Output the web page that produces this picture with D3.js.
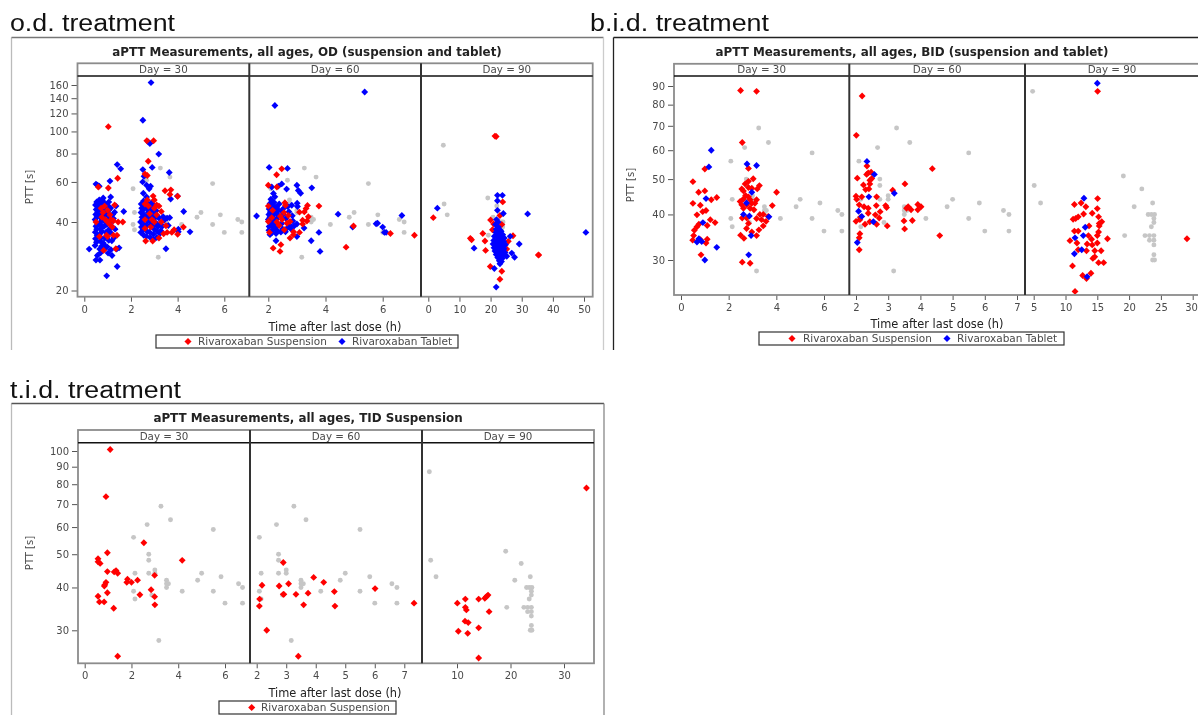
<!DOCTYPE html>
<html><head><meta charset="utf-8">
<script src="https://cdn.jsdelivr.net/npm/d3@7"></script>
<style>html,body{margin:0;padding:0;background:#fff}svg{display:block;filter:blur(0.45px)}</style>
</head><body><svg id="c" width="1198" height="715"></svg>
<script>
// ---- reference (grey) measurements [time h, PTT s]
const greyEarly=[[2.09,56],[2.15,44],[2.09,39],[2.15,37],[2.67,61],[3.26,69],[3.67,63],[2.74,50],[2.74,48],[2.74,44],[3,45],[3,44],[2.87,38],[3.17,28],[3.5,42],[3.5,41],[3.58,41],[3.5,40],[4.17,39],[4.83,42],[5,44],[5.5,59],[5.5,39],[5.83,43],[6,36],[6.58,41],[6.75,40],[6.75,36]];
const greyLate=[[4.83,87],[5.08,48],[6.08,43],[19.1,51],[22,47],[20.8,42],[19.3,35],[23.7,43],[23,40],[23.5,40],[24,40],[23.9,39],[23.9,38],[23.5,37],[22.5,35],[23.2,35],[23.9,35],[23.2,34],[23.9,34],[23.9,33],[23.9,31],[23.7,30],[24,30]];

// ---- o.d.
const odSusp30=[[1.03,105],[1.43,62.3],[1.03,56.4],[.6,57],[.87,47],[1.3,47.5],[1,45],[.8,44],[.75,42],[1.1,43],[1.25,40.5],[1,40],[1.1,39],[.5,40],[1.65,40],[1.45,40],[1.2,38],[.65,34.5],[1,34.5],[.95,35],[1.25,35],[1.4,35],[.83,30],[1.35,30.5],[1.15,41],[.72,46],[.9,41],
[2.68,91],[2.97,91],[2.74,74],[2.6,65],[2.7,64],[3.46,54.9],[3.71,55.4],[3.67,52.9],[4,51.9],[2.7,50],[2.95,52],[3,50],[2.6,48],[3.1,47.5],[3.2,47],[2.75,47],[3,46],[3.3,44.5],[3.1,43],[2.8,43.5],[2.6,41],[2.9,41],[3,40],[3.3,40],[3.5,38.5],[2.85,38],[2.6,37.5],[3.55,36],[3.75,36],[3.4,35.5],[4,35.3],[4.25,38],[2.63,33],[2.93,33],[3.2,34],[3.85,37]];
const odTab30=[[2.86,164],[2.51,112],[2.74,90],[2.81,88.5],[3.19,79.5],[1.41,71.5],[1.56,68.5],[2.91,69.5],[2.51,68],[3.64,66],[2.56,63.5],[1.1,60.5],[.5,58.7],[.64,57.5],[.57,58],[2.5,60],[2.67,58],[2.84,57.5],[2.78,56],[1.13,51.5],[.81,51],[.64,50],[.53,49],[.98,47.5],[2.53,53.5],[2.67,51.5],[3.99,52],[3.7,50.5],[4.26,44.5],[1.69,44.5],[4.53,36.2],[4.03,37.2],[4.03,36.2],[3.5,30.5],[3.24,35.6],[3.1,34.2],[2.96,33.5],[1.41,25.5],[.96,23.2],[.21,30.4],[1.49,30.8],[1.39,30.4],[1.19,28.5],[.5,27.2],[.67,27.2],[.56,28.5],
[.46,31.5],[.52,32.6],[.48,33.8],[.55,35],[.47,36.1],[.53,37.2],[.5,38.3],[.58,39.1],[.46,41],[.54,42.1],[.49,43.2],[.57,44.3],[.51,45.4],[.6,46.3],[.48,47.5],
[.7,29.3],[.66,30.4],[.74,31.3],[.68,33],[.72,34.1],[.64,35.2],[.76,36.3],[.69,37.4],[.73,38.6],[.66,39.6],[.75,40.7],[.7,41.8],[.63,43],[.77,44.1],[.68,45.2],[.72,46.5],[.66,47.6],[.74,48.8],[.78,49.8],
[.84,30.3],[.9,31.2],[.82,32.3],[.88,34],[.93,36.1],[.84,38.2],[.9,40.1],[.86,42.3],[.92,44.2],[.83,46.1],[.88,48.2],
[1.02,29.2],[.98,31.1],[1.05,33.2],[.99,35.6],[1.06,37.1],[.97,39],[1.04,41.2],[.98,43.4],[1.07,45.3],[1,47.1],[1.05,49],
[1.14,30.2],[1.18,33.1],[1.12,36],[1.2,38.1],[1.16,40.2],[1.22,43.2],[1.13,46.1],[1.27,34.1],[1.32,37.2],[1.25,41.4],[1.3,44.2],[1.36,47],
[2.42,36],[2.45,38],[2.41,40],[2.47,42],[2.43,44],[2.46,46],[2.44,48],[2.55,35],[2.52,37],[2.57,39],[2.5,41],[2.56,43],[2.51,45],[2.58,47],[2.54,49.5],
[2.66,34.6],[2.7,36.3],[2.65,38.4],[2.72,40.3],[2.67,42.1],[2.74,44.2],[2.68,46],[2.71,48.2],[2.83,34.2],[2.8,36.1],[2.86,39],[2.79,40.7],[2.84,42.3],[2.88,44.9],[2.82,46.1],[2.87,48.5],
[2.96,35.4],[3,37.2],[2.95,38.8],[3.04,41.8],[2.98,43.2],[3.08,44.8],[2.97,47.5],[3.12,36.4],[3.16,38.2],[3.1,39.4],[3.2,41.6],[3.14,42.4],[3.28,36.6],[3.35,38.4],[3.26,39],[3.42,40.7],[3.38,42.2],[3.55,41.6],[3.66,41.8],[3.6,38.6]];
const odSusp60=[[2.47,68.5],[2.29,64.5],[2,58],[2.3,57],[3.77,47],[3.37,47.3],[3.32,45.9],[3.09,44.2],[3.26,44.3],[3.4,42.2],[3.2,40.7],[3.35,40.4],[3.2,39.2],[4.98,38.4],[4.72,31],[6.27,35.6],[7.11,35],[2.88,36.2],[3.09,36],[2.88,35.2],[2.76,34],[2.44,31.8],[2.17,30.7],[2.41,29.7],[2.58,48.6],[2.6,47.4],[2.42,42.4],[2.7,42.7],[2.55,44],[2,47],[2.04,36],[2.15,45],[2.3,40],[2.48,41],[2.65,39.5],[2.76,40.2],[2.38,38.6],[2.12,41.8],[2.56,37],[2,40.2]];
const odTab60=[[2.23,130],[5.37,149],[2.03,69.5],[2.67,68.8],[1.59,42.5],[4.44,43.3],[6.67,42.7],[5.82,39.5],[5.77,39.3],[4.95,38],[6,38],[6.06,36],[6.12,36],[3.77,36],[3.5,33.1],[3.81,29.7],[3.52,56.5],[3,58],[3.05,55],[3.13,53.5],[2.47,58.8],[2.64,55.8],[2.12,57],[2.35,57.5],[2.18,53.4],[2.23,51.6],[3.01,48.4],[2.82,47.4],[3.02,46.8],[3,39.2],[3.25,37.6],[3,34.5],[2.27,33.1],
[2.02,36.8],[2.06,35.2],[2.03,38.2],[2.08,39.4],[2,41],[2.05,42],[2.02,43.2],[2.07,44.3],[2.03,45.6],[2.1,46.8],[2.06,48.2],[2.12,49.5],[2.09,50.4],
[2.14,36],[2.19,37.2],[2.13,38.4],[2.18,39.6],[2.12,40.4],[2.2,41.4],[2.15,42.6],[2.21,43.8],[2.16,44.8],[2.22,46],[2.17,47.5],[2.2,48.8],[2.27,35.6],[2.32,36.6],[2.26,38],[2.34,39],[2.28,41.1],[2.35,42.6],[2.29,43.7],[2.36,45],[2.3,46.6],[2.38,48],
[2.44,36.1],[2.5,37.3],[2.47,39.4],[2.52,43],[2.46,44.8],[2.54,46],[2.6,36.2],[2.66,37.6],[2.62,41.4],[2.72,44.4],[2.68,46.8],[2.8,37.2],[2.76,38.6],[2.86,40.4],[2.9,38.4],[2.84,42.6]];
const odSusp90=[[21.8,95],[21.4,95.4],[1.6,41.8],[13.5,33.9],[13.9,33.4],[17.5,35.6],[18.2,33],[18.4,30],[19.9,25.5],[23.6,24.3],[23,22.4],[27.2,34.8],[25.7,32.9],[25.2,30.4],[35.4,28.6],[23.9,49],[23,42.7],[20,40.8],[21,39.2],[23.6,39],[20.6,37],[35.4,28.7]];
const odTab90=[[22.2,52.4],[23.8,52.4],[22.2,49.6],[22.2,45],[24.1,43.6],[31.9,43.4],[2.9,46],[50.6,36],[14.7,30.7],[29.2,32],[26.3,34.6],[26.8,29.2],[27.7,28],[25.2,28.3],[21.2,25],[21.8,20.7],
[21.9,41],[22.4,40],[21.6,39],[22.5,38],[21.8,37.2],[22.9,37],[23.4,36.4],[21.7,36],[22.4,35.8],[23.1,35.5],[23.9,35.2],[21.2,34.6],[22,34.4],[22.8,34.3],[23.6,34.1],[24.4,34],[21,33.2],[21.8,33],[22.6,33.1],[23.4,32.9],[24.2,32.8],[20.8,32],[21.6,31.9],[22.4,31.8],[23.2,31.7],[24,31.6],[24.8,31.8],[21.1,30.8],[21.9,30.7],[22.7,30.6],[23.5,30.6],[24.3,30.5],[21.4,29.8],[22.2,29.7],[23,29.6],[23.8,29.5],[24.6,29.4],[21.8,28.8],[22.6,28.7],[23.4,28.6],[24.2,28.7],[22.3,27.9],[23,27.8],[23.8,27.7],[22.8,27],[23.5,26.8],[23,26.2]];

// ---- b.i.d.
const bidSusp30=[[2.5,87.5],[3.17,87],[2.57,63],[1,53.3],[.5,49.2],[.74,46],[1,46.4],[1.27,43.9],[1.5,44.5],[.5,42.9],[.81,42.4],[1.05,41],[.91,40.7],[.67,39.9],[1.23,38.7],[1.43,38],[.75,37.6],[1.1,37.3],[.67,37],[.56,36.2],[.53,35],[.49,34],[.82,34.1],[1.1,34.2],[1.05,33.4],[.84,31],
[3.03,50.1],[2.83,49.3],[2.69,48.5],[2.55,47],[3.29,48],[3.2,47],[2.62,46.4],[2.83,47.4],[2.97,47.2],[4.01,46],[3.17,43.9],[2.9,43.9],[2.62,44.1],[2.48,43.4],[2.83,44.7],[2.71,45.1],[2.55,42.5],[2.76,42.5],[2.97,42.9],[3.1,42.9],[2.62,41.6],[2.9,41.6],[3.06,41.2],[3.83,42.3],[3.31,40],[3.45,40],[3.66,39.5],[2.57,39.1],[2.76,39.1],[3.17,39],[3.38,38.7],[3.57,38.3],[3.45,37.2],[2.83,37.8],[2.75,36.6],[3.27,36.3],[3.17,35],[2.97,35.8],[2.5,35.1],[2.64,34.4],[2.57,29.6],[2.9,29.4],[2.83,53.5]];
const bidTab30=[[1.27,60],[1.17,54],[1.05,44.2],[.92,38],[.75,34.3],[.87,33.7],[.67,33.6],[1.5,32.5],[1,30],[2.77,55],[3.17,54.5],[2.97,46],[2.75,43],[2.62,40],[2.87,39.6],[2.94,35],[3.69,39.4],[2.84,31]];
const bidSusp60=[[2.19,84.5],[2.01,65.9],[2.34,54.3],[4.37,53.4],[2.04,50.3],[2.38,52],[2.47,52.2],[2.33,51.5],[2.49,50.2],[2.43,49.6],[2.23,48.2],[2.43,48.5],[2.3,46.8],[2.4,47],[3.14,46.6],[3.52,48.5],[2,44.9],[2.18,44.7],[2.64,44.7],[2.02,44],[2.1,42.5],[2.25,42],[2.38,41.6],[2.63,42.3],[2.92,42.3],[2.95,41.8],[3.62,42],[3.57,41.6],[3.71,41.2],[3.92,42.6],[4.02,42],[3.92,41.2],[2.38,40.3],[2.75,40.7],[2.6,39.9],[2.14,39.3],[2.72,39.1],[2,38.3],[2.12,38.7],[3.49,38.4],[3.75,38.5],[2.28,37.6],[2.43,38.2],[2.64,37.6],[2.97,37.2],[3.51,36.5],[4.6,35],[2.12,35.4],[2.1,34.5],[2.1,32]];
const bidTab60=[[2.34,55.9],[2.57,51.5],[2.4,44.7],[3.19,45.7],[2.08,40.8],[2.18,39.5],[2.54,38.2],[2.04,33.5]];
const bidSusp90=[[15.05,87],[29.1,34.3],[15.05,44.2],[11.4,42.6],[12.45,43],[13.2,42],[15,41.5],[14.2,40.3],[12.85,40.1],[12,39.4],[11.2,38.8],[11.6,39],[15.2,39.4],[15.7,38.2],[15.3,37.8],[15.3,37.2],[13.7,37.2],[11.4,36],[12,36],[15.2,35.8],[15,35],[13.6,35],[14.1,34.2],[16.6,34.3],[10.7,33.9],[11.8,33.4],[13.4,33.2],[14.2,33],[15,33.4],[12,32],[13.3,31.8],[14.6,31.8],[15.6,31.8],[14.6,30.6],[14.3,30.3],[15.2,29.5],[16,29.5],[11.1,28.9],[12.7,27.2],[14,27.6],[13.3,26.7],[11.5,24.6]];
const bidTab90=[[15,91.6],[12.9,44.3],[13.1,36.9],[12.8,35],[11.5,34.5],[12.55,32],[11.4,31.2],[13.4,27]];

// ---- t.i.d.
const tidSusp30=[[1.09,101],[.91,73.6],[.57,48.5],[.57,47.5],[.66,47],[.97,50.5],[.97,44.5],[1.26,44.4],[1.34,44.8],[1.41,44],[2.53,54],[4.17,48],[2.99,43.4],[1.83,42.3],[2.26,42],[1.8,41.4],[2,41.4],[.91,41.4],[.86,40.7],[.84,40.4],[.97,38.6],[.57,37.7],[.63,36.3],[.83,36.3],[1.24,34.8],[2.36,38.1],[2.84,39.4],[2.99,37.6],[3,35.6],[1.41,25.2]];
const tidSusp60=[[2.9,47.3],[2.18,40.6],[2.76,40.4],[3.08,41],[3.93,42.8],[4.27,41.4],[6.01,39.7],[2.1,37],[2.09,35.3],[2.92,38.2],[2.9,38.2],[3.33,38.2],[3.74,38.5],[4.63,38.9],[3.59,35.6],[4.65,35.3],[7.33,36],[2.34,30],[3.41,25.2]];
const tidSusp90=[[34.2,78],[10.06,36],[11.56,37],[14.05,37],[15.2,37.2],[15.5,37.6],[15.8,38],[11.56,35],[11.75,34.4],[16,34],[11.5,31.9],[12.1,31.6],[14.05,30.5],[10.25,29.8],[12,29.4],[14.05,24.9]];

// ---- tick labels / text
const yTicksOd=[20,40,60,80,100,120,140,160];
const yTicksBid=[30,40,50,60,70,80,90];
const yTicksTid=[30,40,50,60,70,80,90,100];
const x30Ticks=[0,2,4,6];
const xOd60=[2,4,6], xOd90=[0,10,20,30,40,50];
const x60Ticks=[2,3,4,5,6,7];
const xBid90=[5,10,15,20,25,30], xTid90=[10,20,30];
const suspName="Rivaroxaban Suspension", tabName="Rivaroxaban Tablet";

const RED="#ff0000",BLUE="#0000ff",GREY="#c6c6c6",TXT="#4a4a4a";
const svg=d3.select("#c");
const sym=d3.symbol().type(d3.symbolDiamond2).size(30);
const symGrey=d3.symbol().type(d3.symbolCircle).size(19);

function heading(t,x,y,len){
  svg.append("text").attr("x",x).attr("y",y).attr("textLength",len).attr("lengthAdjust","spacingAndGlyphs")
    .attr("font-family","Liberation Sans").attr("font-size",23).attr("fill","#111").text(t);
}
function marks(g,data,color,x,y,s){
  g.append("g").selectAll("path").data(data).join("path")
    .attr("d",s||sym).attr("fill",color).attr("transform",d=>`translate(${x(d[0])},${y(d[1])})`);
}
let clipN=0;
function chart(o){
  const g=svg.append("g");
  const F=o.frame;
  g.append("path").attr("d",`M${F.l},${F.b}V${F.t}`).attr("stroke",F.leftC).attr("stroke-width",1.3).attr("fill","none");
  g.append("path").attr("d",`M${F.l},${F.t}H${F.r}`).attr("stroke",F.topC).attr("stroke-width",1.5).attr("fill","none");
  if(F.rightC) g.append("path").attr("d",`M${F.r},${F.t}V${F.b}`).attr("stroke",F.rightC).attr("stroke-width",1.3).attr("fill","none");
  g.append("text").attr("x",o.titleX).attr("y",o.titleY).attr("text-anchor","middle")
    .attr("font-family","DejaVu Sans").attr("font-weight","bold").attr("font-size",11.9).attr("fill","#222").text(o.title);
  const y=d3.scaleLog().domain(o.yDomain).range(o.yRange);
  const days=["Day = 30","Day = 60","Day = 90"];
  o.panels.forEach((p,i)=>{
    const x=d3.scaleLinear().domain(p.xDomain).range(p.xRange);
    const L=o.seps[i],R=o.seps[i+1];
    const pg=g.append("g");
    const id="cl"+(clipN++);
    pg.append("clipPath").attr("id",id).append("rect").attr("x",L).attr("y",o.stripB).attr("width",R-L).attr("height",o.bottom-o.stripB);
    const mg=pg.append("g").attr("clip-path",`url(#${id})`);
    marks(mg,p.grey,GREY,x,y,symGrey);
    p.order.forEach(s=>marks(mg,s.data,s.color,x,y));
    pg.append("text").attr("x",(L+R)/2).attr("y",o.stripT+9.5).attr("text-anchor","middle")
      .attr("font-family","DejaVu Sans").attr("font-size",10.3).attr("fill",TXT).text(days[i]);
    const ax=pg.append("g").attr("transform",`translate(0,${o.bottom})`).call(d3.axisBottom(x).tickValues(p.ticks).tickSize(5).tickPadding(4).tickFormat(d3.format("d")));
    ax.select(".domain").remove();
    ax.selectAll("line").attr("stroke","#555");
    ax.selectAll("text").attr("font-family","DejaVu Sans").attr("font-size",10).attr("fill",TXT);
    if(p.lastDx) ax.selectAll("text").filter(d=>d===p.ticks[p.ticks.length-1]).attr("dx",p.lastDx);
  });
  const ay=g.append("g").attr("transform",`translate(${o.seps[0]},0)`).call(d3.axisLeft(y).tickValues(o.yTicks).tickSize(6).tickPadding(3).tickFormat(d3.format("d")));
  ay.select(".domain").remove();
  ay.selectAll("line").attr("stroke","#555");
  ay.selectAll("text").attr("font-family","DejaVu Sans").attr("font-size",10).attr("fill",TXT);
  const l=o.seps[0],r=o.seps[3];
  g.append("rect").attr("x",l).attr("y",o.stripT).attr("width",r-l).attr("height",o.bottom-o.stripT).attr("fill","none").attr("stroke","#8c8c8c").attr("stroke-width",1.8);
  g.append("line").attr("x1",l).attr("x2",r).attr("y1",o.stripB).attr("y2",o.stripB).attr("stroke","#111").attr("stroke-width",1.6);
  [o.seps[1],o.seps[2]].forEach(s=>g.append("line").attr("x1",s).attr("x2",s).attr("y1",o.stripT).attr("y2",o.bottom).attr("stroke","#333").attr("stroke-width",2));
  g.append("text").attr("transform",`translate(${o.yTitle[0]},${o.yTitle[1]}) rotate(-90)`).attr("text-anchor","middle")
    .attr("font-family","DejaVu Sans").attr("font-size",10).attr("fill",TXT).text("PTT [s]");
  g.append("text").attr("x",o.xTitle[0]).attr("y",o.xTitle[1]).attr("text-anchor","middle")
    .attr("font-family","DejaVu Sans").attr("font-size",11.4).attr("fill","#222").text("Time after last dose (h)");
  const Lg=o.legend;
  g.append("rect").attr("x",Lg.x).attr("y",Lg.y).attr("width",Lg.w).attr("height",13).attr("fill","#fff").attr("stroke","#333").attr("stroke-width",1.2);
  Lg.items.forEach(it=>{
    g.append("path").attr("d",d3.symbol().type(d3.symbolDiamond2).size(32)).attr("fill",it.color).attr("transform",`translate(${it.mx},${Lg.y+6.5})`);
    g.append("text").attr("x",it.tx).attr("y",Lg.y+10.2).attr("font-family","DejaVu Sans").attr("font-size",10.5).attr("fill",TXT).text(it.name);
  });
}

heading("o.d. treatment",10,31,165);
heading("b.i.d. treatment",590,31,179);
heading("t.i.d. treatment",10,398,171);

const S=(d)=>({data:d,color:RED}), T=(d)=>({data:d,color:BLUE});
chart({frame:{l:11.5,t:37.5,r:603.5,b:350,leftC:"#bbb",topC:"#777",rightC:"#ccc"},
  title:"aPTT Measurements, all ages, OD (suspension and tablet)",titleX:307,titleY:56,
  seps:[77.5,249.3,421,592.7],stripT:63.3,stripB:76,bottom:296.7,
  yDomain:[20,160],yRange:[290.5,85],yTicks:yTicksOd,yTitle:[33,187],xTitle:[335,331],
  panels:[
   {xDomain:[0,6],xRange:[84.3,224.3],ticks:x30Ticks,grey:greyEarly,order:[T(odTab30),S(odSusp30)]},
   {xDomain:[2,6],xRange:[268.3,382.7],ticks:xOd60,grey:greyEarly,order:[T(odTab60),S(odSusp60)]},
   {xDomain:[0,50],xRange:[428.3,584],ticks:xOd90,grey:greyLate,order:[S(odSusp90),T(odTab90)]}],
  legend:{x:156,y:335,w:302,items:[{color:RED,mx:188,tx:198,name:suspName},{color:BLUE,mx:342,tx:352,name:tabName}]}});
chart({frame:{l:613.5,t:37.5,r:1198,b:350,leftC:"#222",topC:"#222"},
  title:"aPTT Measurements, all ages, BID (suspension and tablet)",titleX:912,titleY:56,
  seps:[674,849.3,1025,1199],stripT:63.8,stripB:76,bottom:295,
  yDomain:[30,90],yRange:[260,86],yTicks:yTicksBid,yTitle:[634,185],xTitle:[937,328],
  panels:[
   {xDomain:[0,6],xRange:[681,824],ticks:x30Ticks,grey:greyEarly,order:[S(bidSusp30),T(bidTab30)]},
   {xDomain:[2,7],xRange:[856,1017],ticks:x60Ticks,grey:greyEarly,order:[S(bidSusp60),T(bidTab60)]},
   {xDomain:[5,30],xRange:[1033.7,1192.7],ticks:xBid90,lastDx:-1.6,grey:greyLate,order:[S(bidSusp90),T(bidTab90)]}],
  legend:{x:759,y:332,w:305,items:[{color:RED,mx:792,tx:803,name:suspName},{color:BLUE,mx:947,tx:957,name:tabName}]}});
chart({frame:{l:11.5,t:403.5,r:604,b:715,leftC:"#bbb",topC:"#555",rightC:"#888"},
  title:"aPTT Measurements, all ages, TID Suspension",titleX:308,titleY:422,
  seps:[78,250,422,594],stripT:430,stripB:442.7,bottom:663.3,
  yDomain:[30,100],yRange:[630.3,451],yTicks:yTicksTid,yTitle:[33,553],xTitle:[335,697],
  panels:[
   {xDomain:[0,6],xRange:[84.7,225],ticks:x30Ticks,grey:greyEarly,order:[S(tidSusp30)]},
   {xDomain:[2,7],xRange:[256.7,404.3],ticks:x60Ticks,grey:greyEarly,order:[S(tidSusp60)]},
   {xDomain:[10,30],xRange:[457,564],ticks:xTid90,grey:greyLate,order:[S(tidSusp90)]}],
  legend:{x:219,y:701,w:177,items:[{color:RED,mx:251.7,tx:261,name:suspName}]}});
</script></body></html>
